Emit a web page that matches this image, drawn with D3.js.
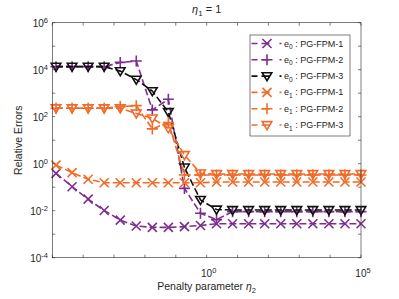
<!DOCTYPE html>
<html>
<head>
<meta charset="utf-8">
<script src="https://cdnjs.cloudflare.com/ajax/libs/d3/7.8.5/d3.min.js"></script>
<style>
  html, body { margin: 0; padding: 0; background: #fff; }
  svg { display: block; font-family: "Liberation Sans", Arial, sans-serif; }
</style>
</head>
<body>
<div id="chart"></div>
<script>
//=================================================
// Data
//=================================================
var eta2 = [1.32e-5, 4.37e-5, 1.45e-4, 4.79e-4, 1.59e-3, 5.25e-3, 1.74e-2, 5.75e-2, 0.191, 0.631,
            2.09, 6.92, 22.9, 75.9, 251, 832, 2754, 9120, 30200, 1e5];

var e0_fpm1 = [0.389, 0.105, 0.0309, 0.0102, 0.00398, 0.00224, 0.00195, 0.00195, 0.00209, 0.00234,
               0.0028, 0.0028, 0.0028, 0.0028, 0.0028, 0.0028, 0.0028, 0.0028, 0.0028, 0.0028];
var e0_fpm2 = [13490, 13490, 13490, 13490, 20420, 23440, 195, 550, 0.0891, 0.00776,
               0.00417, 0.00912, 0.00912, 0.00912, 0.00912, 0.00912, 0.00912, 0.00912, 0.00912, 0.00912];
var e0_fpm3 = [13490, 13490, 13490, 13490, 8710, 3800, 1230, 158, 0.692, 0.0288,
               0.0112, 0.0107, 0.0107, 0.0107, 0.0107, 0.0107, 0.0107, 0.0107, 0.0107, 0.0107];
var e1_fpm1 = [0.871, 0.417, 0.219, 0.155, 0.155, 0.155, 0.155, 0.155, 0.155, 0.155,
               0.166, 0.166, 0.166, 0.166, 0.166, 0.166, 0.166, 0.166, 0.166, 0.166];
var e1_fpm2 = [229, 229, 229, 229, 269, 295, 30.2, 56.2, 0.331, 0.331,
               0.331, 0.331, 0.331, 0.331, 0.331, 0.331, 0.331, 0.331, 0.331, 0.331];
var e1_fpm3 = [229, 229, 229, 229, 229, 138, 85.1, 32.4, 2.34, 0.389,
               0.363, 0.363, 0.363, 0.363, 0.363, 0.363, 0.363, 0.363, 0.363, 0.363];

var seriesNames = ["0 : PG-FPM-1", "0 : PG-FPM-2", "0 : PG-FPM-3", "1 : PG-FPM-1", "1 : PG-FPM-2", "1 : PG-FPM-3"];
var xTickLabels = [0, 5];
var yTickLabels = [6, 4, 2, 0, -2, -4];

//=================================================
// Dimensions
//=================================================
var width = 399, height = 299;
var pLeft = 52.3, pRight = 361, pTop = 22.7, pBottom = 257.7;
var purple = "#7E2F8E", orange = "#F26A28", black = "#111", axisCol = "#262626";

var series = [
  { vals: e0_fpm1, col: purple, mk: "x" },
  { vals: e0_fpm2, col: purple, mk: "+" },
  { vals: e0_fpm3, col: black, mk: "v" },
  { vals: e1_fpm1, col: orange, mk: "x" },
  { vals: e1_fpm2, col: orange, mk: "+" },
  { vals: e1_fpm3, col: orange, mk: "v" }
];

var xScale = d3.scaleLog().domain([1e-5, 1e5]).range([pLeft, pRight]);
var yScale = d3.scaleLog().domain([1e-4, 1e6]).range([pBottom, pTop]);

var svg = d3.select("#chart").append("svg")
  .attr("width", width).attr("height", height);

function markerPath(mk) {
  if (mk === "x") return "M-4.5,-4.5L4.5,4.5M-4.5,4.5L4.5,-4.5";
  if (mk === "+") return "M-5.5,0H5.5M0,-5.5V5.5";
  return "M-4.8,-3.4L4.8,-3.4L0,4.6Z";
}

//=================================================
// Lines and markers
//=================================================
var plot = svg.append("g");
var line = d3.line().x((d, i) => xScale(eta2[i])).y(d => yScale(d));

series.forEach(function (s) {
  plot.append("path")
    .attr("d", line(s.vals))
    .attr("fill", "none")
    .attr("stroke", s.col)
    .attr("stroke-width", 1.6)
    .attr("stroke-dasharray", "7,3");
  plot.selectAll(null).data(s.vals).enter().append("path")
    .attr("transform", (d, i) => "translate(" + xScale(eta2[i]) + "," + yScale(d) + ")")
    .attr("d", markerPath(s.mk))
    .attr("fill", "none")
    .attr("stroke", s.col)
    .attr("stroke-width", 1.6);
});

//=================================================
// Axes (box with inward ticks)
//=================================================
var ax = svg.append("g").attr("stroke", axisCol).attr("stroke-width", 0.6).attr("fill", "none");
ax.append("rect").attr("x", pLeft).attr("y", pTop).attr("width", pRight - pLeft).attr("height", pBottom - pTop);

var xMajor = d3.range(-5, 6).map(k => Math.pow(10, k));
xMajor.forEach(function (v) {
  var x = xScale(v);
  ax.append("line").attr("x1", x).attr("x2", x).attr("y1", pBottom).attr("y2", pBottom - 3);
  ax.append("line").attr("x1", x).attr("x2", x).attr("y1", pTop).attr("y2", pTop + 3);
});

var yTicks = yScale.ticks();
yTicks.forEach(function (v) {
  var y = yScale(v);
  var major = Math.abs(Math.log10(v) - Math.round(Math.log10(v))) < 1e-9;
  var len = major ? 3 : 1.6;
  ax.append("line").attr("x1", pLeft).attr("x2", pLeft + len).attr("y1", y).attr("y2", y);
  ax.append("line").attr("x1", pRight).attr("x2", pRight - len).attr("y1", y).attr("y2", y);
});

var txt = svg.append("g").attr("fill", axisCol);

xTickLabels.forEach(function (k) {
  var t = txt.append("text").attr("x", xScale(Math.pow(10, k)) + 2).attr("y", 277)
    .attr("text-anchor", "middle").attr("font-size", 10);
  t.append("tspan").text("10");
  t.append("tspan").attr("dy", -4.5).attr("font-size", 7.5).text(k);
});

yTickLabels.forEach(function (k) {
  var t = txt.append("text").attr("x", 48).attr("y", yScale(Math.pow(10, k)) + 4.5)
    .attr("text-anchor", "end").attr("font-size", 10);
  t.append("tspan").text("10");
  t.append("tspan").attr("dy", -4.5).attr("font-size", 7.5).text(k);
});

// title
var title = txt.append("text").attr("x", (pLeft + pRight) / 2).attr("y", 13)
  .attr("text-anchor", "middle").attr("font-size", 11);
title.append("tspan").attr("font-style", "italic").text("η");
title.append("tspan").attr("font-size", 8).attr("dy", 2.5).text("1");
title.append("tspan").attr("dy", -2.5).text(" = 1");

// x label
var xl = txt.append("text").attr("x", (pLeft + pRight) / 2).attr("y", 290)
  .attr("text-anchor", "middle").attr("font-size", 10.5);
xl.append("tspan").text("Penalty parameter ");
xl.append("tspan").attr("font-style", "italic").text("η");
xl.append("tspan").attr("font-size", 7.5).attr("dy", 2.5).text("2");

// y label
txt.append("text")
  .attr("transform", "translate(21.5," + ((pTop + pBottom) / 2) + ") rotate(-90)")
  .attr("text-anchor", "middle").attr("font-size", 10.5)
  .text("Relative Errors");

//=================================================
// Legend
//=================================================
var lg = svg.append("g");
lg.append("rect").attr("x", 250).attr("y", 35).attr("width", 100).attr("height", 101)
  .attr("fill", "#fff").attr("stroke", axisCol).attr("stroke-width", 0.6);

series.forEach(function (s, i) {
  var y = 43.5 + i * 16.3;
  lg.append("line").attr("x1", 251.5).attr("x2", 282).attr("y1", y).attr("y2", y)
    .attr("stroke", s.col).attr("stroke-width", 1.6).attr("stroke-dasharray", "6,4,8,10,2");
  lg.append("path").attr("transform", "translate(267," + y + ")")
    .attr("d", markerPath(s.mk)).attr("fill", "none")
    .attr("stroke", s.col).attr("stroke-width", 1.6);
  var t = lg.append("text").attr("x", 284).attr("y", y + 3).attr("font-size", 9).attr("fill", axisCol);
  var parts = seriesNames[i].split(" : ");
  t.append("tspan").text("e");
  t.append("tspan").attr("font-size", 6.5).attr("dy", 2.5).text(parts[0]);
  t.append("tspan").attr("dy", -2.5).text(" : " + parts[1]);
});
</script>
</body>
</html>
